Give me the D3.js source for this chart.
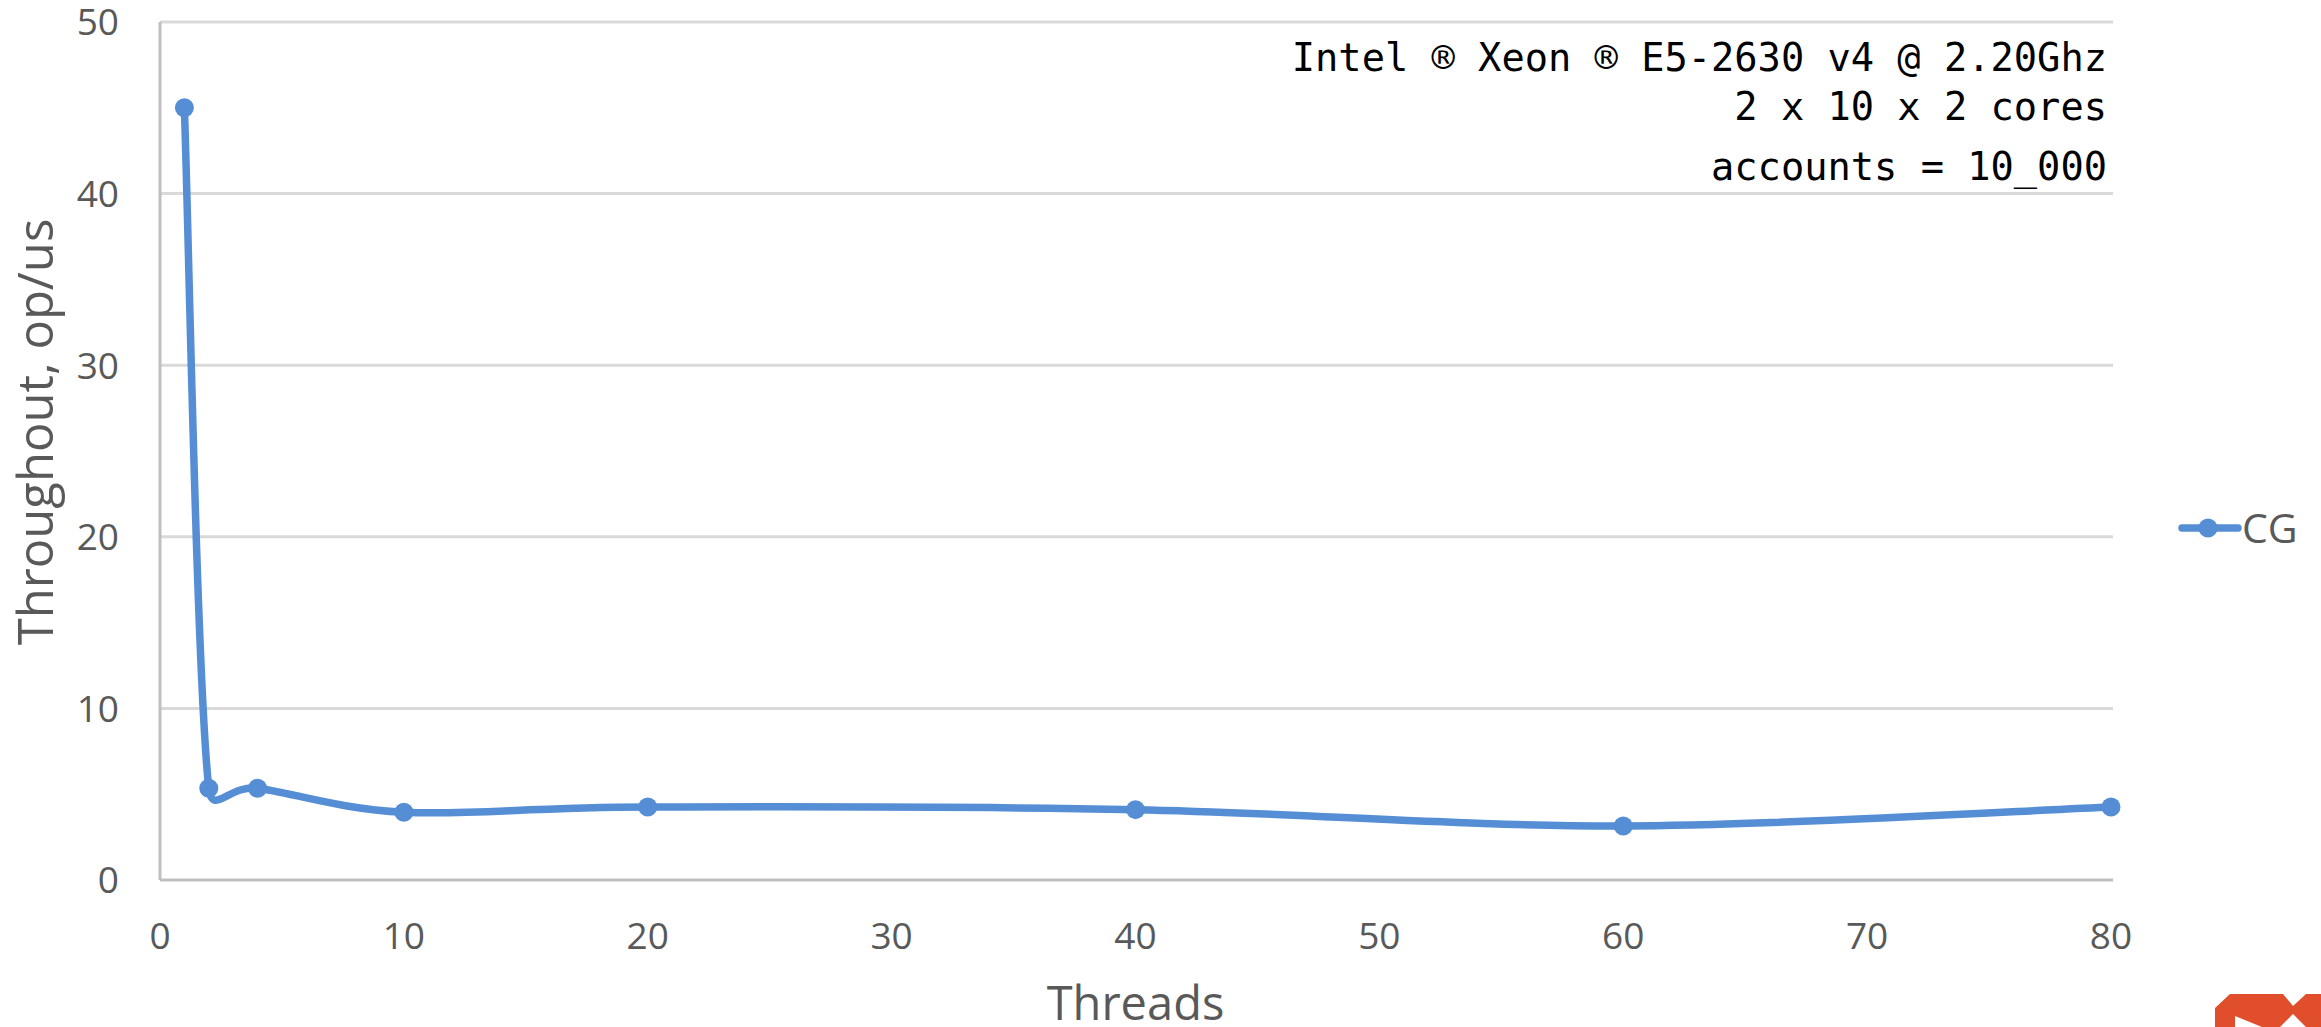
<!DOCTYPE html>
<html>

<head>
    <title>Throughput CG</title>
    <script src="https://d3js.org/d3.v7.min.js"></script>
    <style>
        body { margin: 0; background: #fff; }
        text { font-family: 'Open Sans', sans-serif; fill: #595959; }
        .note { font-family: 'DejaVu Sans Mono', monospace; fill: #000; font-size: 38.7px; }
    </style>
</head>

<body>
    <svg id="chart" width="2321" height="1027"></svg>

    <script>
        // data
        let threads = [1, 2, 4, 10, 20, 40, 60, 80]
        let cg = [45, 5.35, 5.35, 3.95, 4.25, 4.1, 3.15, 4.25]
        let xTicks = [0, 10, 20, 30, 40, 50, 60, 70, 80]
        let yTicks = [0, 10, 20, 30, 40, 50]
        let notes = ['Intel \u00AE Xeon \u00AE E5-2630 v4 @ 2.20Ghz', '2 x 10 x 2 cores', 'accounts = 10_000']

        let svg = d3.select('#chart')
        let blue = '#558ed5'

        let x = d3.scaleLinear().domain([0, 80]).range([160, 2111])
        let y = d3.scaleLinear().domain([0, 50]).range([880, 22])

        // grid lines
        svg.append('g')
            .selectAll('line')
            .data(yTicks.slice(1))
            .enter()
            .append('line')
            .attr('x1', x(0))
            .attr('x2', x(80) + 2)
            .attr('y1', d => y(d))
            .attr('y2', d => y(d))
            .attr('stroke', '#d9d9d9')
            .attr('stroke-width', 3)

        // axes lines
        svg.append('line')
            .attr('x1', x(0)).attr('x2', x(80) + 2)
            .attr('y1', y(0)).attr('y2', y(0))
            .attr('stroke', '#bfbfbf').attr('stroke-width', 3)
        svg.append('line')
            .attr('x1', x(0)).attr('x2', x(0))
            .attr('y1', y(50)).attr('y2', y(0))
            .attr('stroke', '#bfbfbf').attr('stroke-width', 3)

        // tick labels
        svg.append('g')
            .selectAll('text')
            .data(yTicks)
            .enter()
            .append('text')
            .attr('x', 119)
            .attr('y', d => y(d))
            .attr('dy', '0.36em')
            .attr('text-anchor', 'end')
            .style('font-size', '37px')
            .text(d => d)

        svg.append('g')
            .selectAll('text')
            .data(xTicks)
            .enter()
            .append('text')
            .attr('x', d => x(d))
            .attr('y', 949)
            .attr('text-anchor', 'middle')
            .style('font-size', '37px')
            .text(d => d)

        // axis titles
        svg.append('text')
            .attr('x', (x(0) + x(80)) / 2)
            .attr('y', 1020)
            .attr('text-anchor', 'middle')
            .style('font-size', '47px')
            .text('Threads')

        svg.append('text')
            .attr('transform', 'translate(53, 432) rotate(-90)')
            .attr('text-anchor', 'middle')
            .style('font-size', '49px')
            .text('Throughout, op/us')

        // note in the corner
        let noteY = [71, 120, 180]
        svg.append('g')
            .selectAll('text')
            .data(notes)
            .enter()
            .append('text')
            .attr('class', 'note')
            .attr('x', 2107)
            .attr('y', (d, i) => noteY[i])
            .attr('text-anchor', 'end')
            .text(d => d)

        // smoothed line, excel style: bezier with catmull-rom tangents,
        // handle length kept short next to a short segment
        function smoothPath(pts) {
            let p = d3.path()
            let n = pts.length
            let dist = (a, b) => Math.hypot(b[0] - a[0], b[1] - a[1])
            let handles = pts.map((pt, i) => {
                let a = pts[Math.max(i - 1, 0)], b = pts[Math.min(i + 1, n - 1)]
                let t = [b[0] - a[0], b[1] - a[1]]
                let len = Math.hypot(t[0], t[1]) || 1
                let u = [t[0] / len, t[1] / len]
                let dPrev = i > 0 ? dist(pts[i - 1], pt) : 0
                let dNext = i < n - 1 ? dist(pt, pts[i + 1]) : 0
                return {
                    u: u,
                    mIn: Math.min(len / 6, 0.6 * dPrev),
                    mOut: Math.min(len / 6, 0.6 * dNext)
                }
            })
            p.moveTo(pts[0][0], pts[0][1])
            for (let i = 0; i < n - 1; i++) {
                let h0 = handles[i], h1 = handles[i + 1]
                p.bezierCurveTo(
                    pts[i][0] + h0.u[0] * h0.mOut, pts[i][1] + h0.u[1] * h0.mOut,
                    pts[i + 1][0] - h1.u[0] * h1.mIn, pts[i + 1][1] - h1.u[1] * h1.mIn,
                    pts[i + 1][0], pts[i + 1][1])
            }
            return p.toString()
        }

        let pts = cg.map((d, i) => [x(threads[i]), y(d)])

        svg.append('path')
            .attr('d', smoothPath(pts))
            .attr('fill', 'none')
            .attr('stroke', blue)
            .attr('stroke-width', 7.5)
            .attr('stroke-linejoin', 'round')
            .attr('stroke-linecap', 'round')

        svg.append('g')
            .selectAll('circle')
            .data(cg)
            .enter()
            .append('circle')
            .attr('cx', (d, i) => x(threads[i]))
            .attr('cy', d => y(d))
            .attr('r', 9.5)
            .attr('fill', blue)

        // legend
        let legend = svg.append('g').attr('transform', 'translate(2182, 528)')
        legend.append('line')
            .attr('x1', 0).attr('x2', 56)
            .attr('stroke', blue).attr('stroke-width', 7.5)
            .attr('stroke-linecap', 'round')
        legend.append('circle')
            .attr('cx', 26).attr('r', 9.5).attr('fill', blue)
        legend.append('text')
            .attr('x', 60)
            .attr('dy', '0.36em')
            .style('font-size', '41px')
            .text('CG')

        // corner logo, cut off by the page edge
        svg.append('path')
            .attr('d', 'M2215,1027 L2215,1008 L2230,994 L2283,994 L2293,1006 L2306,994 L2321,994 L2321,1027 Z')
            .attr('fill', '#e04e2b')
        svg.append('path')
            .attr('d', 'M2235,1016 L2235,1027 L2262,1027 Z M2293,1014 L2280,1027 L2306,1027 Z')
            .attr('fill', '#fff')
    </script>
</body>

</html>
